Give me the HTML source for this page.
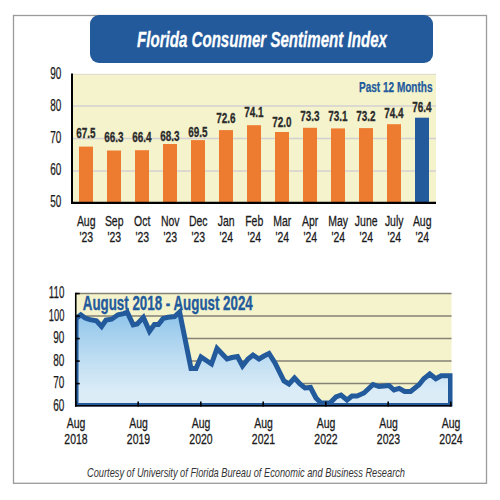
<!DOCTYPE html>
<html><head><meta charset="utf-8"><style>
html,body{margin:0;padding:0;background:#fff;}
svg{display:block;}
</style></head><body>
<svg width="500" height="500" viewBox="0 0 500 500">
<rect x="13.5" y="15.5" width="473" height="467.8" fill="#fff" stroke="#9a9a9a" stroke-width="1.3"/>
<rect x="90" y="15" width="343" height="48" rx="9" ry="9" fill="#235a9c"/>
<text x="137" y="46.5" font-family='"Liberation Sans", sans-serif' font-size="22.5" font-weight="bold" font-style="italic" fill="#fff" stroke="#fff" stroke-width="0.3" textLength="250" lengthAdjust="spacingAndGlyphs">Florida Consumer Sentiment Index</text>
<rect x="72" y="74" width="364" height="128" fill="#f4f3cc"/>
<line x1="72" y1="74.3" x2="436" y2="74.3" stroke="#dcdacb" stroke-width="1"/>
<line x1="72" y1="106.0" x2="436" y2="106.0" stroke="#d3d0d2" stroke-width="1.5"/>
<line x1="72" y1="138.5" x2="436" y2="138.5" stroke="#d3d0d2" stroke-width="1.5"/>
<line x1="72" y1="171.0" x2="436" y2="171.0" stroke="#d3d0d2" stroke-width="1.5"/>
<text x="61.4" y="78.9" font-family='"Liberation Sans", sans-serif' font-size="15.8" fill="#1a1a1a" stroke="#1a1a1a" stroke-width="0.25" text-anchor="end" textLength="11.1" lengthAdjust="spacingAndGlyphs">90</text>
<text x="61.4" y="110.9" font-family='"Liberation Sans", sans-serif' font-size="15.8" fill="#1a1a1a" stroke="#1a1a1a" stroke-width="0.25" text-anchor="end" textLength="11.1" lengthAdjust="spacingAndGlyphs">80</text>
<text x="61.4" y="142.9" font-family='"Liberation Sans", sans-serif' font-size="15.8" fill="#1a1a1a" stroke="#1a1a1a" stroke-width="0.25" text-anchor="end" textLength="11.1" lengthAdjust="spacingAndGlyphs">70</text>
<text x="61.4" y="174.9" font-family='"Liberation Sans", sans-serif' font-size="15.8" fill="#1a1a1a" stroke="#1a1a1a" stroke-width="0.25" text-anchor="end" textLength="11.1" lengthAdjust="spacingAndGlyphs">60</text>
<text x="61.4" y="206.9" font-family='"Liberation Sans", sans-serif' font-size="15.8" fill="#1a1a1a" stroke="#1a1a1a" stroke-width="0.25" text-anchor="end" textLength="11.1" lengthAdjust="spacingAndGlyphs">50</text>
<rect x="79" y="146.6" width="14" height="56.4" fill="#ee7c30"/>
<text x="86" y="138" font-family='"Liberation Sans", sans-serif' font-size="14.8" font-weight="bold" fill="#2b2b2b" stroke="#2b2b2b" stroke-width="0.3" text-anchor="middle" textLength="19.3" lengthAdjust="spacingAndGlyphs">67.5</text>
<text transform="translate(86.2,225.8) scale(0.68,1)" font-family='"Liberation Sans", sans-serif' font-size="15.4" fill="#1a1a1a" stroke="#1a1a1a" stroke-width="0.3" text-anchor="middle">Aug</text>
<text transform="translate(86.2,241.8) scale(0.68,1)" font-family='"Liberation Sans", sans-serif' font-size="15.4" fill="#1a1a1a" stroke="#1a1a1a" stroke-width="0.3" text-anchor="middle">'23</text>
<rect x="107" y="150.5" width="14" height="52.5" fill="#ee7c30"/>
<text x="114" y="141.6" font-family='"Liberation Sans", sans-serif' font-size="14.8" font-weight="bold" fill="#2b2b2b" stroke="#2b2b2b" stroke-width="0.3" text-anchor="middle" textLength="19.3" lengthAdjust="spacingAndGlyphs">66.3</text>
<text transform="translate(114.2,225.8) scale(0.68,1)" font-family='"Liberation Sans", sans-serif' font-size="15.4" fill="#1a1a1a" stroke="#1a1a1a" stroke-width="0.3" text-anchor="middle">Sep</text>
<text transform="translate(114.2,241.8) scale(0.68,1)" font-family='"Liberation Sans", sans-serif' font-size="15.4" fill="#1a1a1a" stroke="#1a1a1a" stroke-width="0.3" text-anchor="middle">'23</text>
<rect x="135" y="150.2" width="14" height="52.8" fill="#ee7c30"/>
<text x="142" y="142" font-family='"Liberation Sans", sans-serif' font-size="14.8" font-weight="bold" fill="#2b2b2b" stroke="#2b2b2b" stroke-width="0.3" text-anchor="middle" textLength="19.3" lengthAdjust="spacingAndGlyphs">66.4</text>
<text transform="translate(142.2,225.8) scale(0.68,1)" font-family='"Liberation Sans", sans-serif' font-size="15.4" fill="#1a1a1a" stroke="#1a1a1a" stroke-width="0.3" text-anchor="middle">Oct</text>
<text transform="translate(142.2,241.8) scale(0.68,1)" font-family='"Liberation Sans", sans-serif' font-size="15.4" fill="#1a1a1a" stroke="#1a1a1a" stroke-width="0.3" text-anchor="middle">'23</text>
<rect x="163" y="144.0" width="14" height="59.0" fill="#ee7c30"/>
<text x="170" y="141" font-family='"Liberation Sans", sans-serif' font-size="14.8" font-weight="bold" fill="#2b2b2b" stroke="#2b2b2b" stroke-width="0.3" text-anchor="middle" textLength="19.3" lengthAdjust="spacingAndGlyphs">68.3</text>
<text transform="translate(170.2,225.8) scale(0.68,1)" font-family='"Liberation Sans", sans-serif' font-size="15.4" fill="#1a1a1a" stroke="#1a1a1a" stroke-width="0.3" text-anchor="middle">Nov</text>
<text transform="translate(170.2,241.8) scale(0.68,1)" font-family='"Liberation Sans", sans-serif' font-size="15.4" fill="#1a1a1a" stroke="#1a1a1a" stroke-width="0.3" text-anchor="middle">'23</text>
<rect x="191" y="140.1" width="14" height="62.9" fill="#ee7c30"/>
<text x="198" y="137" font-family='"Liberation Sans", sans-serif' font-size="14.8" font-weight="bold" fill="#2b2b2b" stroke="#2b2b2b" stroke-width="0.3" text-anchor="middle" textLength="19.3" lengthAdjust="spacingAndGlyphs">69.5</text>
<text transform="translate(198.2,225.8) scale(0.68,1)" font-family='"Liberation Sans", sans-serif' font-size="15.4" fill="#1a1a1a" stroke="#1a1a1a" stroke-width="0.3" text-anchor="middle">Dec</text>
<text transform="translate(198.2,241.8) scale(0.68,1)" font-family='"Liberation Sans", sans-serif' font-size="15.4" fill="#1a1a1a" stroke="#1a1a1a" stroke-width="0.3" text-anchor="middle">'23</text>
<rect x="219" y="130.1" width="14" height="72.9" fill="#ee7c30"/>
<text x="226" y="123" font-family='"Liberation Sans", sans-serif' font-size="14.8" font-weight="bold" fill="#2b2b2b" stroke="#2b2b2b" stroke-width="0.3" text-anchor="middle" textLength="19.3" lengthAdjust="spacingAndGlyphs">72.6</text>
<text transform="translate(226.2,225.8) scale(0.68,1)" font-family='"Liberation Sans", sans-serif' font-size="15.4" fill="#1a1a1a" stroke="#1a1a1a" stroke-width="0.3" text-anchor="middle">Jan</text>
<text transform="translate(226.2,241.8) scale(0.68,1)" font-family='"Liberation Sans", sans-serif' font-size="15.4" fill="#1a1a1a" stroke="#1a1a1a" stroke-width="0.3" text-anchor="middle">'24</text>
<rect x="247" y="125.2" width="14" height="77.8" fill="#ee7c30"/>
<text x="254" y="116.6" font-family='"Liberation Sans", sans-serif' font-size="14.8" font-weight="bold" fill="#2b2b2b" stroke="#2b2b2b" stroke-width="0.3" text-anchor="middle" textLength="19.3" lengthAdjust="spacingAndGlyphs">74.1</text>
<text transform="translate(254.2,225.8) scale(0.68,1)" font-family='"Liberation Sans", sans-serif' font-size="15.4" fill="#1a1a1a" stroke="#1a1a1a" stroke-width="0.3" text-anchor="middle">Feb</text>
<text transform="translate(254.2,241.8) scale(0.68,1)" font-family='"Liberation Sans", sans-serif' font-size="15.4" fill="#1a1a1a" stroke="#1a1a1a" stroke-width="0.3" text-anchor="middle">'24</text>
<rect x="275" y="132.0" width="14" height="71.0" fill="#ee7c30"/>
<text x="282" y="127" font-family='"Liberation Sans", sans-serif' font-size="14.8" font-weight="bold" fill="#2b2b2b" stroke="#2b2b2b" stroke-width="0.3" text-anchor="middle" textLength="19.3" lengthAdjust="spacingAndGlyphs">72.0</text>
<text transform="translate(282.2,225.8) scale(0.68,1)" font-family='"Liberation Sans", sans-serif' font-size="15.4" fill="#1a1a1a" stroke="#1a1a1a" stroke-width="0.3" text-anchor="middle">Mar</text>
<text transform="translate(282.2,241.8) scale(0.68,1)" font-family='"Liberation Sans", sans-serif' font-size="15.4" fill="#1a1a1a" stroke="#1a1a1a" stroke-width="0.3" text-anchor="middle">'24</text>
<rect x="303" y="127.8" width="14" height="75.2" fill="#ee7c30"/>
<text x="310" y="121.4" font-family='"Liberation Sans", sans-serif' font-size="14.8" font-weight="bold" fill="#2b2b2b" stroke="#2b2b2b" stroke-width="0.3" text-anchor="middle" textLength="19.3" lengthAdjust="spacingAndGlyphs">73.3</text>
<text transform="translate(310.2,225.8) scale(0.68,1)" font-family='"Liberation Sans", sans-serif' font-size="15.4" fill="#1a1a1a" stroke="#1a1a1a" stroke-width="0.3" text-anchor="middle">Apr</text>
<text transform="translate(310.2,241.8) scale(0.68,1)" font-family='"Liberation Sans", sans-serif' font-size="15.4" fill="#1a1a1a" stroke="#1a1a1a" stroke-width="0.3" text-anchor="middle">'24</text>
<rect x="331" y="128.4" width="14" height="74.6" fill="#ee7c30"/>
<text x="338" y="121.4" font-family='"Liberation Sans", sans-serif' font-size="14.8" font-weight="bold" fill="#2b2b2b" stroke="#2b2b2b" stroke-width="0.3" text-anchor="middle" textLength="19.3" lengthAdjust="spacingAndGlyphs">73.1</text>
<text transform="translate(338.2,225.8) scale(0.68,1)" font-family='"Liberation Sans", sans-serif' font-size="15.4" fill="#1a1a1a" stroke="#1a1a1a" stroke-width="0.3" text-anchor="middle">May</text>
<text transform="translate(338.2,241.8) scale(0.68,1)" font-family='"Liberation Sans", sans-serif' font-size="15.4" fill="#1a1a1a" stroke="#1a1a1a" stroke-width="0.3" text-anchor="middle">'24</text>
<rect x="359" y="128.1" width="14" height="74.9" fill="#ee7c30"/>
<text x="366" y="121.4" font-family='"Liberation Sans", sans-serif' font-size="14.8" font-weight="bold" fill="#2b2b2b" stroke="#2b2b2b" stroke-width="0.3" text-anchor="middle" textLength="19.3" lengthAdjust="spacingAndGlyphs">73.2</text>
<text transform="translate(366.2,225.8) scale(0.68,1)" font-family='"Liberation Sans", sans-serif' font-size="15.4" fill="#1a1a1a" stroke="#1a1a1a" stroke-width="0.3" text-anchor="middle">June</text>
<text transform="translate(366.2,241.8) scale(0.68,1)" font-family='"Liberation Sans", sans-serif' font-size="15.4" fill="#1a1a1a" stroke="#1a1a1a" stroke-width="0.3" text-anchor="middle">'24</text>
<rect x="387" y="124.2" width="14" height="78.8" fill="#ee7c30"/>
<text x="394" y="117.8" font-family='"Liberation Sans", sans-serif' font-size="14.8" font-weight="bold" fill="#2b2b2b" stroke="#2b2b2b" stroke-width="0.3" text-anchor="middle" textLength="19.3" lengthAdjust="spacingAndGlyphs">74.4</text>
<text transform="translate(394.2,225.8) scale(0.68,1)" font-family='"Liberation Sans", sans-serif' font-size="15.4" fill="#1a1a1a" stroke="#1a1a1a" stroke-width="0.3" text-anchor="middle">July</text>
<text transform="translate(394.2,241.8) scale(0.68,1)" font-family='"Liberation Sans", sans-serif' font-size="15.4" fill="#1a1a1a" stroke="#1a1a1a" stroke-width="0.3" text-anchor="middle">'24</text>
<rect x="415" y="117.7" width="14" height="85.3" fill="#235a9c"/>
<text x="422" y="111.8" font-family='"Liberation Sans", sans-serif' font-size="14.8" font-weight="bold" fill="#2b2b2b" stroke="#2b2b2b" stroke-width="0.3" text-anchor="middle" textLength="19.3" lengthAdjust="spacingAndGlyphs">76.4</text>
<text transform="translate(422.2,225.8) scale(0.68,1)" font-family='"Liberation Sans", sans-serif' font-size="15.4" fill="#1a1a1a" stroke="#1a1a1a" stroke-width="0.3" text-anchor="middle">Aug</text>
<text transform="translate(422.2,241.8) scale(0.68,1)" font-family='"Liberation Sans", sans-serif' font-size="15.4" fill="#1a1a1a" stroke="#1a1a1a" stroke-width="0.3" text-anchor="middle">'24</text>
<line x1="72" y1="73.5" x2="72" y2="203.5" stroke="#000" stroke-width="2"/>
<line x1="71" y1="202.9" x2="436" y2="202.9" stroke="#000" stroke-width="2.3"/>
<text x="432.5" y="91.8" font-family='"Liberation Sans", sans-serif' font-size="14" font-weight="bold" fill="#235a9c" stroke="#235a9c" stroke-width="0.25" text-anchor="end" textLength="73.5" lengthAdjust="spacingAndGlyphs">Past 12 Months</text>
<defs><linearGradient id="g1" gradientUnits="userSpaceOnUse" x1="0" y1="312" x2="0" y2="392"><stop offset="0" stop-color="#8ec4ea"/><stop offset="0.55" stop-color="#bcdcf2"/><stop offset="1" stop-color="#dbecf7"/></linearGradient><clipPath id="cp"><rect x="75" y="280" width="377.5" height="126.5"/></clipPath></defs>
<rect x="75.75" y="293.5" width="375.75" height="112.19999999999999" fill="#f4f3cc"/>
<line x1="75.75" y1="293.6" x2="451.5" y2="293.6" stroke="#858275" stroke-width="1.5"/>
<line x1="75.75" y1="316.1" x2="451.5" y2="316.1" stroke="#858275" stroke-width="1.5"/>
<line x1="75.75" y1="338.6" x2="451.5" y2="338.6" stroke="#858275" stroke-width="1.5"/>
<line x1="75.75" y1="361.1" x2="451.5" y2="361.1" stroke="#858275" stroke-width="1.5"/>
<line x1="75.75" y1="383.6" x2="451.5" y2="383.6" stroke="#858275" stroke-width="1.5"/>
<polygon points="76,405.5 76,318.5 80.8,314.8 85.2,318 90,319.6 96.4,320.8 101.6,326.4 106,320 111.6,319.2 118,314.8 123.6,313.6 127.2,312.2 133.2,324.8 137.2,324 143.4,317.4 149.5,331.3 154.4,324.6 158.4,324.6 163.2,318.4 168,317.2 174.6,316.5 179.6,312 191,368.5 196,368.5 201,357 211.5,364 217,348.5 227,359 232,357.5 237.5,356.5 242.5,366 248,359 253,355 259,359 264,356 269,353.5 275,363 284,381 289,384 294.5,378 300,384 305,388 310.5,387.5 316,398 321,403 330,403 336,397 341,395 347,400 352,396 357,396 364,393 373,384.5 379,386.5 389,385.5 394,390 399.2,388.4 404.6,391.4 410.6,391.4 419,384.8 423.8,378.8 429.8,374 435.8,378.8 441.2,375.8 450.5,375.8 450.5,405.5" fill="url(#g1)"/>
<polygon clip-path="url(#cp)" points="76,405.5 76,318.5 80.8,314.8 85.2,318 90,319.6 96.4,320.8 101.6,326.4 106,320 111.6,319.2 118,314.8 123.6,313.6 127.2,312.2 133.2,324.8 137.2,324 143.4,317.4 149.5,331.3 154.4,324.6 158.4,324.6 163.2,318.4 168,317.2 174.6,316.5 179.6,312 191,368.5 196,368.5 201,357 211.5,364 217,348.5 227,359 232,357.5 237.5,356.5 242.5,366 248,359 253,355 259,359 264,356 269,353.5 275,363 284,381 289,384 294.5,378 300,384 305,388 310.5,387.5 316,398 321,403 330,403 336,397 341,395 347,400 352,396 357,396 364,393 373,384.5 379,386.5 389,385.5 394,390 399.2,388.4 404.6,391.4 410.6,391.4 419,384.8 423.8,378.8 429.8,374 435.8,378.8 441.2,375.8 450.5,375.8 450.5,405.5" fill="none" stroke="#235a9c" stroke-width="5" stroke-linejoin="miter" stroke-miterlimit="2.5"/>
<text x="82.8" y="309.6" font-family='"Liberation Sans", sans-serif' font-size="19.6" font-weight="bold" fill="#235a9c" stroke="#235a9c" stroke-width="0.35" textLength="170" lengthAdjust="spacingAndGlyphs">August 2018 - August 2024</text>
<line x1="75.75" y1="292.8" x2="75.75" y2="406.5" stroke="#000" stroke-width="1.6"/>
<line x1="75" y1="405.7" x2="451.5" y2="405.7" stroke="#000" stroke-width="1.6"/>
<line x1="75" y1="293.6" x2="79.7" y2="293.6" stroke="#000" stroke-width="1.6"/>
<line x1="75" y1="316.1" x2="79.7" y2="316.1" stroke="#000" stroke-width="1.6"/>
<line x1="75" y1="338.6" x2="79.7" y2="338.6" stroke="#000" stroke-width="1.6"/>
<line x1="75" y1="361.1" x2="79.7" y2="361.1" stroke="#000" stroke-width="1.6"/>
<line x1="75" y1="383.6" x2="79.7" y2="383.6" stroke="#000" stroke-width="1.6"/>
<line x1="75.8" y1="401.5" x2="75.8" y2="406.5" stroke="#000" stroke-width="1.6"/>
<line x1="138.2" y1="401.5" x2="138.2" y2="406.5" stroke="#000" stroke-width="1.6"/>
<line x1="200.8" y1="401.5" x2="200.8" y2="406.5" stroke="#000" stroke-width="1.6"/>
<line x1="263.2" y1="401.5" x2="263.2" y2="406.5" stroke="#000" stroke-width="1.6"/>
<line x1="325.8" y1="401.5" x2="325.8" y2="406.5" stroke="#000" stroke-width="1.6"/>
<line x1="388.2" y1="401.5" x2="388.2" y2="406.5" stroke="#000" stroke-width="1.6"/>
<line x1="450.8" y1="401.5" x2="450.8" y2="406.5" stroke="#000" stroke-width="1.6"/>
<text x="64.4" y="298.4" font-family='"Liberation Sans", sans-serif' font-size="15.8" fill="#1a1a1a" stroke="#1a1a1a" stroke-width="0.25" text-anchor="end" textLength="15.6" lengthAdjust="spacingAndGlyphs">110</text>
<text x="64.4" y="320.9" font-family='"Liberation Sans", sans-serif' font-size="15.8" fill="#1a1a1a" stroke="#1a1a1a" stroke-width="0.25" text-anchor="end" textLength="15.6" lengthAdjust="spacingAndGlyphs">100</text>
<text x="64.4" y="343.4" font-family='"Liberation Sans", sans-serif' font-size="15.8" fill="#1a1a1a" stroke="#1a1a1a" stroke-width="0.25" text-anchor="end" textLength="11.1" lengthAdjust="spacingAndGlyphs">90</text>
<text x="64.4" y="365.9" font-family='"Liberation Sans", sans-serif' font-size="15.8" fill="#1a1a1a" stroke="#1a1a1a" stroke-width="0.25" text-anchor="end" textLength="11.1" lengthAdjust="spacingAndGlyphs">80</text>
<text x="64.4" y="388.4" font-family='"Liberation Sans", sans-serif' font-size="15.8" fill="#1a1a1a" stroke="#1a1a1a" stroke-width="0.25" text-anchor="end" textLength="11.1" lengthAdjust="spacingAndGlyphs">70</text>
<text x="64.4" y="410.9" font-family='"Liberation Sans", sans-serif' font-size="15.8" fill="#1a1a1a" stroke="#1a1a1a" stroke-width="0.25" text-anchor="end" textLength="11.1" lengthAdjust="spacingAndGlyphs">60</text>
<text transform="translate(76.0,428) scale(0.68,1)" font-family='"Liberation Sans", sans-serif' font-size="15.4" fill="#1a1a1a" stroke="#1a1a1a" stroke-width="0.3" text-anchor="middle">Aug</text>
<text transform="translate(76.0,444) scale(0.68,1)" font-family='"Liberation Sans", sans-serif' font-size="15.4" fill="#1a1a1a" stroke="#1a1a1a" stroke-width="0.3" text-anchor="middle">2018</text>
<text transform="translate(138.5,428) scale(0.68,1)" font-family='"Liberation Sans", sans-serif' font-size="15.4" fill="#1a1a1a" stroke="#1a1a1a" stroke-width="0.3" text-anchor="middle">Aug</text>
<text transform="translate(138.5,444) scale(0.68,1)" font-family='"Liberation Sans", sans-serif' font-size="15.4" fill="#1a1a1a" stroke="#1a1a1a" stroke-width="0.3" text-anchor="middle">2019</text>
<text transform="translate(201.0,428) scale(0.68,1)" font-family='"Liberation Sans", sans-serif' font-size="15.4" fill="#1a1a1a" stroke="#1a1a1a" stroke-width="0.3" text-anchor="middle">Aug</text>
<text transform="translate(201.0,444) scale(0.68,1)" font-family='"Liberation Sans", sans-serif' font-size="15.4" fill="#1a1a1a" stroke="#1a1a1a" stroke-width="0.3" text-anchor="middle">2020</text>
<text transform="translate(263.5,428) scale(0.68,1)" font-family='"Liberation Sans", sans-serif' font-size="15.4" fill="#1a1a1a" stroke="#1a1a1a" stroke-width="0.3" text-anchor="middle">Aug</text>
<text transform="translate(263.5,444) scale(0.68,1)" font-family='"Liberation Sans", sans-serif' font-size="15.4" fill="#1a1a1a" stroke="#1a1a1a" stroke-width="0.3" text-anchor="middle">2021</text>
<text transform="translate(326.0,428) scale(0.68,1)" font-family='"Liberation Sans", sans-serif' font-size="15.4" fill="#1a1a1a" stroke="#1a1a1a" stroke-width="0.3" text-anchor="middle">Aug</text>
<text transform="translate(326.0,444) scale(0.68,1)" font-family='"Liberation Sans", sans-serif' font-size="15.4" fill="#1a1a1a" stroke="#1a1a1a" stroke-width="0.3" text-anchor="middle">2022</text>
<text transform="translate(388.5,428) scale(0.68,1)" font-family='"Liberation Sans", sans-serif' font-size="15.4" fill="#1a1a1a" stroke="#1a1a1a" stroke-width="0.3" text-anchor="middle">Aug</text>
<text transform="translate(388.5,444) scale(0.68,1)" font-family='"Liberation Sans", sans-serif' font-size="15.4" fill="#1a1a1a" stroke="#1a1a1a" stroke-width="0.3" text-anchor="middle">2023</text>
<text transform="translate(451.0,428) scale(0.68,1)" font-family='"Liberation Sans", sans-serif' font-size="15.4" fill="#1a1a1a" stroke="#1a1a1a" stroke-width="0.3" text-anchor="middle">Aug</text>
<text transform="translate(451.0,444) scale(0.68,1)" font-family='"Liberation Sans", sans-serif' font-size="15.4" fill="#1a1a1a" stroke="#1a1a1a" stroke-width="0.3" text-anchor="middle">2024</text>
<text x="87" y="476.6" font-family='"Liberation Sans", sans-serif' font-size="13.6" font-style="italic" fill="#333" textLength="318" lengthAdjust="spacingAndGlyphs">Courtesy of University of Florida Bureau of Economic and Business Research</text>
</svg>
</body></html>
